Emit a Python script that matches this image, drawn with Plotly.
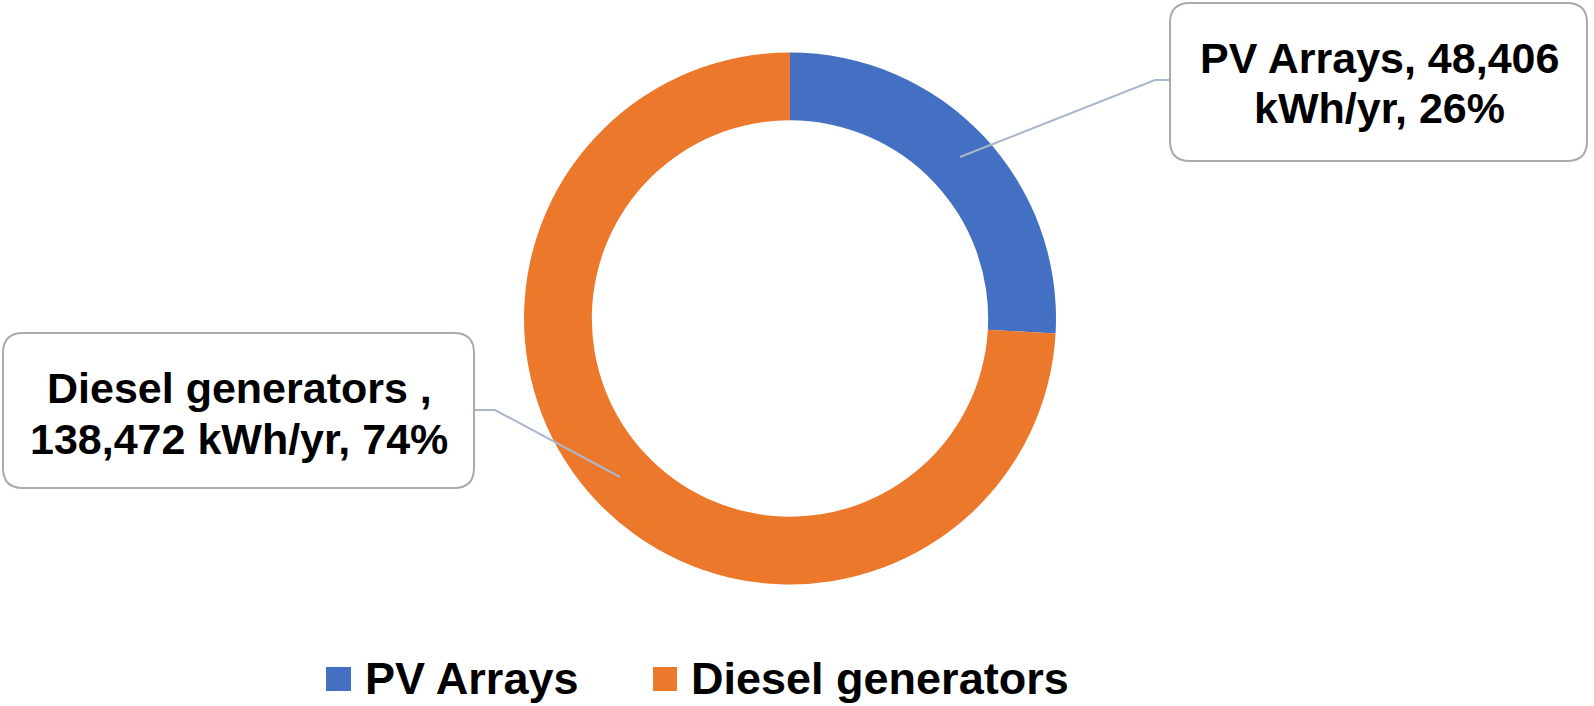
import plotly.graph_objects as go

# ---- data ----
sources = ["PV Arrays", "Diesel generators"]
energy_kwh = [48406, 138472]
unit = "kWh/yr"
colors = ["#4370C3", "#EC782B"]

W, H = 1594, 706
total = sum(energy_kwh)
pcts = [round(100 * v / total) for v in energy_kwh]

# label text lines (as in the original call-outs)
label_lines = [
    [f"{sources[0]}, {energy_kwh[0]:,}", f"{unit}, {pcts[0]}%"],
    [f"{sources[1]} ,", f"{energy_kwh[1]:,} {unit}, {pcts[1]}%"],
]


def px(x):
    return x / W


def py(y):
    return 1 - y / H


def rounded_rect(x0, y0, x1, y1, r):
    pts = [
        f"M {px(x0 + r)},{py(y0)}",
        f"L {px(x1 - r)},{py(y0)}",
        f"Q {px(x1)},{py(y0)} {px(x1)},{py(y0 + r)}",
        f"L {px(x1)},{py(y1 - r)}",
        f"Q {px(x1)},{py(y1)} {px(x1 - r)},{py(y1)}",
        f"L {px(x0 + r)},{py(y1)}",
        f"Q {px(x0)},{py(y1)} {px(x0)},{py(y1 - r)}",
        f"L {px(x0)},{py(y0 + r)}",
        f"Q {px(x0)},{py(y0)} {px(x0 + r)},{py(y0)}",
        "Z",
    ]
    return " ".join(pts)


def polyline(points):
    s = f"M {px(points[0][0])},{py(points[0][1])}"
    for x, y in points[1:]:
        s += f" L {px(x)},{py(y)}"
    return s


cx, cy, R = 790, 318.5, 266

fig = go.Figure(
    go.Pie(
        labels=sources,
        values=energy_kwh,
        hole=0.745,
        sort=False,
        direction="clockwise",
        rotation=0,
        marker=dict(colors=colors, line=dict(width=0)),
        textinfo="none",
        showlegend=False,
        domain=dict(
            x=[px(cx - R), px(cx + R)],
            y=[1 - (cy + R) / H, 1 - (cy - R) / H],
        ),
    )
)

shapes = []
# leader lines
lead_col = "#A9B7CA"
shapes.append(dict(type="path", xref="paper", yref="paper",
                   path=polyline([(960, 157), (1155, 80), (1172, 80)]),
                   line=dict(color=lead_col, width=2)))
shapes.append(dict(type="path", xref="paper", yref="paper",
                   path=polyline([(620, 477), (495, 410), (474, 410)]),
                   line=dict(color=lead_col, width=2)))
# call-out boxes
boxes = [(1170, 3, 1587, 161), (3, 333, 474, 488)]
for b in boxes:
    shapes.append(dict(type="path", xref="paper", yref="paper",
                       path=rounded_rect(*b, 20),
                       line=dict(color="#ABABAB", width=2),
                       fillcolor="white"))

annotations = []
line_pos = [[(1379, 58), (1379, 108)], [(239, 387.5), (239, 438.5)]]
font_lab = dict(family="Liberation Sans, Arial, sans-serif", size=43,
                color="black", weight="bold")
for lines, poss in zip(label_lines, line_pos):
    for t, (x, y) in zip(lines, poss):
        annotations.append(dict(text=t, x=px(x), y=py(y), xref="paper",
                                yref="paper", showarrow=False,
                                xanchor="center", yanchor="middle",
                                font=font_lab))

# legend (custom, larger swatches)
leg_sq = [(326, 667, 351, 691), (653, 667, 677, 691)]
leg_txt_x = [363, 689]
font_leg = dict(family="Liberation Sans, Arial, sans-serif", size=45,
                color="black", weight="bold")
for i, name in enumerate(sources):
    x0, y0, x1, y1 = leg_sq[i]
    shapes.append(dict(type="rect", xref="paper", yref="paper",
                       x0=px(x0), x1=px(x1), y0=py(y1), y1=py(y0),
                       fillcolor=colors[i], line=dict(width=0)))
    annotations.append(dict(text=name, x=px(leg_txt_x[i]), y=py(678),
                            xref="paper", yref="paper", showarrow=False,
                            xanchor="left", yanchor="middle", font=font_leg))

fig.update_layout(
    width=W, height=H,
    margin=dict(l=0, r=0, t=0, b=0),
    paper_bgcolor="white", plot_bgcolor="white",
    shapes=shapes, annotations=annotations,
    showlegend=False,
)

fig.write_html(
    "out.html",
    config={"displayModeBar": False},
    post_script="document.body.style.margin='0';document.body.style.overflow='hidden';",
)
